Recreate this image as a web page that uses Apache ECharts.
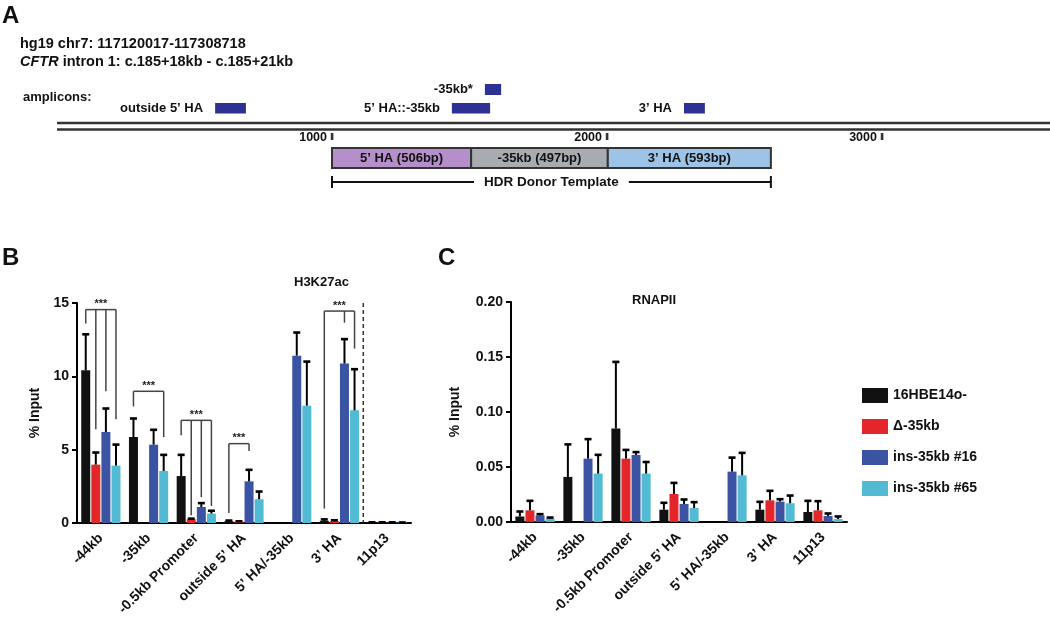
<!DOCTYPE html>
<html><head><meta charset="utf-8">
<script src="https://cdn.jsdelivr.net/npm/echarts@6/dist/echarts.min.js"></script>
<style>html,body{margin:0;padding:0;background:#fff}#c{width:1050px;height:620px}</style>
</head><body><div id="c"></div>
<script>
// ---------- data ----------
const categories = ['-44kb', '-35kb', '-0.5kb Promoter', 'outside 5\u2019 HA', '5\u2019 HA/-35kb', '3\u2019 HA', '11p13'];
const seriesNames = ['16HBE14o-', '\u0394-35kb', 'ins-35kb #16', 'ins-35kb #65'];
const seriesColors = ['#111111', '#E4262B', '#3A53A3', '#52BBD3'];

// Panel B: H3K27ac (% input), mean and SD
const h3_wt = [10.41, 5.86, 3.2, 0.12, null, 0.15, 0.05];
const h3_del = [3.98, null, 0.25, 0.1, null, 0.12, 0.05];
const h3_ins16 = [6.2, 5.34, 1.09, 2.84, 11.41, 10.87, 0.06];
const h3_ins65 = [3.91, 3.55, 0.64, 1.62, 8.0, 7.68, 0.05];
const h3_wt_sd = [2.49, 1.30, 1.48, 0.08, null, 0.13, 0.03];
const h3_del_sd = [0.86, null, 0.08, 0.05, null, 0.1, 0.03];
const h3_ins16_sd = [1.64, 1.05, 0.3, 0.82, 1.61, 1.7, 0.02];
const h3_ins65_sd = [1.47, 1.13, 0.23, 0.56, 3.04, 2.84, 0.02];

// Panel C: RNAPII (% input), mean and SD
const pol_wt = [0.005, 0.041, 0.085, 0.0112, null, 0.0112, 0.0091];
const pol_del = [0.0106, null, 0.0576, 0.0255, null, 0.0197, 0.0106];
const pol_ins16 = [0.006, 0.0576, 0.061, 0.0164, 0.0458, 0.0185, 0.0055];
const pol_ins65 = [0.003, 0.044, 0.044, 0.0127, 0.0424, 0.017, 0.0027];
const pol_wt_sd = [0.005, 0.030, 0.061, 0.0067, null, 0.0076, 0.0106];
const pol_del_sd = [0.0091, null, 0.0084, 0.0105, null, 0.0091, 0.0088];
const pol_ins16_sd = [0.0016, 0.0182, 0.003, 0.0045, 0.0132, 0.0027, 0.0027];
const pol_ins65_sd = [0.0015, 0.0175, 0.011, 0.0058, 0.0209, 0.0075, 0.0028];

// significance brackets in panel B
const bracketCat = [0, 1, 2, 3, 5];
const bracketTop = [14.55, 8.98, 7.0, 5.41, 14.45];
const bracketBars = [[0, 1, 2, 3], [0, 3], [0, 1, 2, 3], [0, 2], [0, 2, 3]];
const bracketEnds = [[13.6, 6.4, 8.98, 7.07], [7.95, 5.86], [5.98, 0.53, 1.77, 1.16], [0.68, 4.91], [0.98, 13.66, 11.89]];
const bracketLabel = '***';

// Panel A schematic (bp positions)
const regionEnd = 3611;
const scaleTicks = [1000, 2000, 3000];
const ampliconNames = ['outside 5\u2019 HA', '5\u2019 HA::-35kb', '-35kb*', '3\u2019 HA'];
const ampliconStart = [575, 1436, 1556, 2280];
const ampliconEnd = [687, 1575, 1615, 2356];
const ampliconRow = [1, 1, 0, 1];
const donorParts = ['5\u2019 HA (506bp)', '-35kb (497bp)', '3\u2019 HA (593bp)'];
const donorLengths = [506, 497, 593];
const donorColors = ['#B48FC9', '#A8ABB0', '#9DC3E6'];
const donorStart = 1000;
const donorLabel = 'HDR Donor Template';

// ---------- layout / helpers ----------
const FONT = 'Liberation Sans, Arial, Helvetica, sans-serif';
const BAR_W = 9, BAR_GAP = 0.12;
function barOffset(i) {
  const total = 4 * BAR_W + 3 * BAR_W * BAR_GAP;
  return -total / 2 + i * (BAR_W * (1 + BAR_GAP)) + BAR_W / 2;
}
const chart = echarts.init(document.getElementById('c'), null, {renderer: 'canvas'});

function errSeries(gi, si, mean, sd) {
  const data = [];
  mean.forEach((m, k) => { if (m != null) data.push([k, m, sd[k]]); });
  return {
    type: 'custom', xAxisIndex: gi, yAxisIndex: gi, z: 5, silent: true, clip: false,
    data: data,
    renderItem: function (params, api) {
      const c = api.value(0), m = api.value(1), s = api.value(2);
      const b = api.coord([c, m]);
      const t = api.coord([c, m + s]);
      const x = b[0] + barOffset(si);
      return {type: 'group', children: [
        {type: 'line', shape: {x1: x, y1: b[1], x2: x, y2: t[1]}, style: {stroke: '#000', lineWidth: 2}},
        {type: 'line', shape: {x1: x - 3.5, y1: t[1] + 0.5, x2: x + 3.5, y2: t[1] + 0.5}, style: {stroke: '#000', lineWidth: 2.6}}
      ]};
    }
  };
}
function barSeries(gi, si, vals) {
  return {
    type: 'bar', name: seriesNames[si], xAxisIndex: gi, yAxisIndex: gi,
    data: vals, barWidth: BAR_W, barGap: (BAR_GAP * 100) + '%',
    itemStyle: {color: seriesColors[si]}, z: 2
  };
}
function catAxis(gi) {
  return {
    type: 'category', gridIndex: gi, data: categories, boundaryGap: true,
    axisLine: {lineStyle: {color: '#000', width: 2}},
    axisTick: {alignWithLabel: true, length: 6, lineStyle: {color: '#000', width: 2}},
    axisLabel: {rotate: 45, color: '#111', fontWeight: 'bold', fontSize: 14, fontFamily: FONT, margin: 13, interval: 0}
  };
}
function valAxis(gi, max, interval, gap, fmt) {
  return {
    type: 'value', gridIndex: gi, min: 0, max: max, interval: interval,
    name: '% Input', nameLocation: 'middle', nameGap: gap, nameRotate: 90,
    nameTextStyle: {color: '#111', fontWeight: 'bold', fontSize: 14, fontFamily: FONT},
    splitLine: {show: false},
    axisLine: {show: true, lineStyle: {color: '#000', width: 2}},
    axisTick: {show: true, length: 5, lineStyle: {color: '#000', width: 2}},
    axisLabel: {color: '#111', fontWeight: 'bold', fontSize: 14, fontFamily: FONT, margin: 8, formatter: fmt}
  };
}

const series = [];
// Panel A custom series (grid 0)
series.push({
  type: 'custom', xAxisIndex: 0, yAxisIndex: 0, silent: true, clip: false, data: [[0, regionEnd]],
  renderItem: function (params, api) {
    const x1 = api.coord([api.value(0), 0])[0], x2 = api.coord([api.value(1), 0])[0] + 10;
    return {type: 'group', children: [
      {type: 'line', shape: {x1: x1, y1: 123, x2: x2, y2: 123}, style: {stroke: '#333', lineWidth: 2.6}},
      {type: 'line', shape: {x1: x1, y1: 129.5, x2: x2, y2: 129.5}, style: {stroke: '#333', lineWidth: 2.6}}
    ]};
  }
});
series.push({
  type: 'custom', xAxisIndex: 0, yAxisIndex: 0, silent: true, clip: false,
  data: scaleTicks.map(t => [t, 0]),
  renderItem: function (params, api) {
    const x = api.coord([api.value(0), 0])[0];
    return {type: 'group', children: [
      {type: 'rect', shape: {x: x - 1.2, y: 133, width: 2.6, height: 7}, style: {fill: '#333'}},
      {type: 'text', style: {text: String(scaleTicks[params.dataIndex]), x: x - 5, y: 138, align: 'right', verticalAlign: 'middle',
        fontSize: 12.5, fontWeight: 'bold', fontFamily: FONT, fill: '#111'}}
    ]};
  }
});
series.push({
  type: 'custom', xAxisIndex: 0, yAxisIndex: 0, silent: true, clip: false,
  data: ampliconStart.map((s, i) => [s, ampliconEnd[i], ampliconRow[i]]),
  renderItem: function (params, api) {
    const i = params.dataIndex;
    const x1 = api.coord([api.value(0), 0])[0], x2 = api.coord([api.value(1), 0])[0];
    const row = api.value(2);
    const y = row === 0 ? 84 : 103, h = row === 0 ? 11 : 10.5;
    return {type: 'group', children: [
      {type: 'rect', shape: {x: x1, y: y, width: x2 - x1, height: h}, style: {fill: '#2C3193'}},
      {type: 'text', style: {text: ampliconNames[i], x: x1 - 12, y: y + h / 2, align: 'right', verticalAlign: 'middle',
        fontSize: 13, fontWeight: 'bold', fontFamily: FONT, fill: '#111'}}
    ]};
  }
});
series.push({
  type: 'custom', xAxisIndex: 0, yAxisIndex: 0, silent: true, clip: false,
  data: donorLengths.map((L, i) => {
    let s = donorStart; for (let k = 0; k < i; k++) s += donorLengths[k];
    return [s, s + L];
  }),
  renderItem: function (params, api) {
    const i = params.dataIndex;
    const x1 = api.coord([api.value(0), 0])[0], x2 = api.coord([api.value(1), 0])[0];
    return {type: 'group', children: [
      {type: 'rect', shape: {x: x1, y: 148, width: x2 - x1, height: 20}, style: {fill: donorColors[i], stroke: '#333', lineWidth: 2}},
      {type: 'text', style: {text: donorParts[i], x: (x1 + x2) / 2, y: 158.5, align: 'center', verticalAlign: 'middle',
        fontSize: 13, fontWeight: 'bold', fontFamily: FONT, fill: '#111'}}
    ]};
  }
});
series.push({
  type: 'custom', xAxisIndex: 0, yAxisIndex: 0, silent: true, clip: false,
  data: [[donorStart, donorStart + donorLengths.reduce((a, b) => a + b, 0)]],
  renderItem: function (params, api) {
    const x1 = api.coord([api.value(0), 0])[0], x2 = api.coord([api.value(1), 0])[0];
    const y = 182;
    return {type: 'group', children: [
      {type: 'line', shape: {x1: x1, y1: y, x2: x2, y2: y}, style: {stroke: '#111', lineWidth: 1.8}},
      {type: 'line', shape: {x1: x1, y1: y - 6, x2: x1, y2: y + 6}, style: {stroke: '#111', lineWidth: 2}},
      {type: 'line', shape: {x1: x2, y1: y - 6, x2: x2, y2: y + 6}, style: {stroke: '#111', lineWidth: 2}},
      {type: 'text', z2: 10, style: {text: donorLabel, x: (x1 + x2) / 2, y: y, align: 'center', verticalAlign: 'middle',
        fontSize: 13.5, fontWeight: 'bold', fontFamily: FONT, fill: '#111', backgroundColor: '#fff', padding: [2, 10]}}
    ]};
  }
});

// Panel B / C bars
const h3Means = [h3_wt, h3_del, h3_ins16, h3_ins65];
const h3Sds = [h3_wt_sd, h3_del_sd, h3_ins16_sd, h3_ins65_sd];
const polMeans = [pol_wt, pol_del, pol_ins16, pol_ins65];
const polSds = [pol_wt_sd, pol_del_sd, pol_ins16_sd, pol_ins65_sd];
for (let s = 0; s < 4; s++) series.push(barSeries(1, s, h3Means[s]));
for (let s = 0; s < 4; s++) series.push(errSeries(1, s, h3Means[s], h3Sds[s]));
for (let s = 0; s < 4; s++) series.push(barSeries(2, s, polMeans[s]));
for (let s = 0; s < 4; s++) series.push(errSeries(2, s, polMeans[s], polSds[s]));

// brackets
series.push({
  type: 'custom', xAxisIndex: 1, yAxisIndex: 1, silent: true, clip: false, z: 6,
  data: bracketCat.map((c, i) => [c, bracketTop[i]]),
  renderItem: function (params, api) {
    const i = params.dataIndex, c = api.value(0);
    const cx = api.coord([c, 0])[0];
    const topY = api.coord([c, bracketTop[i]])[1];
    const xs = bracketBars[i].map(b => cx + barOffset(b));
    const ch = [{type: 'line', shape: {x1: xs[0], y1: topY, x2: xs[xs.length - 1], y2: topY}, style: {stroke: '#444', lineWidth: 1.5}}];
    bracketBars[i].forEach((b, k) => {
      const yEnd = api.coord([c, bracketEnds[i][k]])[1];
      ch.push({type: 'line', shape: {x1: xs[k], y1: topY, x2: xs[k], y2: yEnd}, style: {stroke: '#444', lineWidth: 1.5}});
    });
    ch.push({type: 'text', style: {text: bracketLabel, x: (xs[0] + xs[xs.length - 1]) / 2, y: topY, align: 'center', verticalAlign: 'bottom',
      fontSize: 11, fontWeight: 'bold', fontFamily: FONT, fill: '#222'}});
    return {type: 'group', children: ch};
  }
});
// dashed separator in panel B
series.push({
  type: 'custom', xAxisIndex: 1, yAxisIndex: 1, silent: true, clip: false, z: 6,
  data: [[5, 6]],
  renderItem: function (params, api) {
    const x = (api.coord([api.value(0), 0])[0] + api.coord([api.value(1), 0])[0]) / 2;
    const y0 = api.coord([0, 0])[1], y1 = api.coord([0, 15])[1];
    return {type: 'line', shape: {x1: x, y1: y1, x2: x, y2: y0}, style: {stroke: '#333', lineWidth: 1.5, lineDash: [4, 3]}};
  }
});

const option = {
  backgroundColor: '#fff',
  animation: false,
  textStyle: {fontFamily: FONT},
  grid: [
    {left: 57, top: 0, width: 993, height: 200},
    {left: 77, top: 303, width: 334, height: 220},
    {left: 511, top: 302, width: 336, height: 220}
  ],
  xAxis: [
    {type: 'value', gridIndex: 0, min: 0, max: regionEnd, show: false},
    catAxis(1), catAxis(2)
  ],
  yAxis: [
    {type: 'value', gridIndex: 0, min: 0, max: 1, show: false},
    valAxis(1, 15, 5, 35, v => String(v)),
    valAxis(2, 0.2, 0.05, 49, v => v.toFixed(2))
  ],
  legend: {
    data: seriesNames, orient: 'vertical', left: 857, top: 383,
    itemWidth: 26, itemHeight: 15, itemGap: 16, icon: 'rect',
    textStyle: {color: '#111', fontWeight: 'bold', fontSize: 14, fontFamily: FONT, padding: [0, 0, 0, 0]},
    selectedMode: false
  },
  graphic: [
    {type: 'text', left: 2, top: 4, style: {text: 'A', fontSize: 24, fontWeight: 'bold', fontFamily: FONT, fill: '#111'}},
    {type: 'text', left: 2, top: 246, style: {text: 'B', fontSize: 24, fontWeight: 'bold', fontFamily: FONT, fill: '#111'}},
    {type: 'text', left: 438, top: 246, style: {text: 'C', fontSize: 24, fontWeight: 'bold', fontFamily: FONT, fill: '#111'}},
    {type: 'text', left: 20, top: 36, style: {text: 'hg19 chr7: 117120017-117308718', fontSize: 14.5, fontWeight: 'bold', fontFamily: FONT, fill: '#111'}},
    {type: 'text', left: 20, top: 54, style: {text: '{i|CFTR} intron 1: c.185+18kb - c.185+21kb', fontSize: 14.5, fontWeight: 'bold', fontFamily: FONT, fill: '#111',
      rich: {i: {fontStyle: 'italic', fontSize: 14.5, fontWeight: 'bold', fontFamily: FONT, fill: '#111'}}}},
    {type: 'text', left: 23, top: 91, style: {text: 'amplicons:', fontSize: 13, fontWeight: 'bold', fontFamily: FONT, fill: '#111'}},
    {type: 'text', left: 294, top: 276, style: {text: 'H3K27ac', fontSize: 13, fontWeight: 'bold', fontFamily: FONT, fill: '#111'}},
    {type: 'text', left: 632, top: 294, style: {text: 'RNAPII', fontSize: 13, fontWeight: 'bold', fontFamily: FONT, fill: '#111'}}
  ],
  series: series
};
chart.setOption(option);
</script>
</body></html>
